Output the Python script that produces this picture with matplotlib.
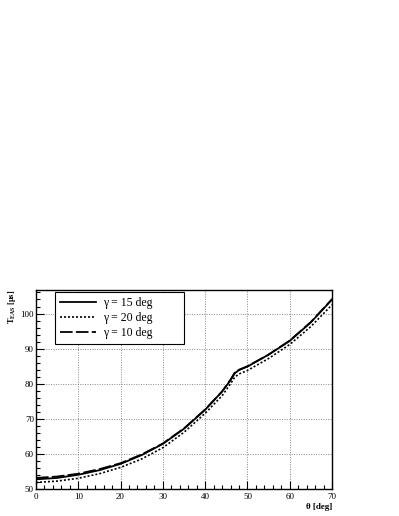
import numpy as np
import matplotlib
matplotlib.use("Agg")
import matplotlib.pyplot as plt
from matplotlib.ticker import MultipleLocator

plt.rcParams['font.family'] = ['Liberation Serif', 'DejaVu Serif']
plt.rcParams['mathtext.fontset'] = 'custom'
plt.rcParams['mathtext.rm'] = 'Liberation Serif'
plt.rcParams['mathtext.bf'] = 'Liberation Serif:bold'

# zenith angle [deg]
theta = [0, 5, 10, 15, 20, 25, 30, 35, 40, 44, 46, 47, 48, 50, 55, 60, 65, 70]

# T_EAS [us] for each gamma
t_g15 = [52.8, 53.2, 54.1, 55.4, 57.2, 59.7, 62.9, 67.2, 72.6, 77.8, 81.0, 83.0, 83.9, 84.9, 88.3, 92.2, 97.5, 104.0]
t_g20 = [51.9, 52.3, 53.1, 54.4, 56.2, 58.6, 61.8, 66.2, 71.6, 76.6, 80.0, 81.9, 82.8, 83.8, 87.2, 91.2, 96.3, 102.5]
t_g10 = [53.2, 53.6, 54.4, 55.7, 57.4, 59.9, 63.0, 67.3, 72.7, 77.8, 81.2, 83.2, 84.0, 85.0, 88.3, 92.3, 97.6, 104.1]

labels = ['γ = 15 deg', 'γ = 20 deg', 'γ = 10 deg']

fig = plt.figure(figsize=(3.99, 5.16), dpi=100)
ax = fig.add_axes([0.0902, 0.052, 0.742, 0.386])

ax.plot(theta, t_g15, color='black', lw=1.3, ls='-', label=labels[0])
ax.plot(theta, t_g20, color='black', lw=1.2, ls=(0, (1.2, 1.2)), label=labels[1])
ax.plot(theta, t_g10, color='black', lw=1.3, ls=(0, (7, 1.8)), label=labels[2])

ax.set_xlim(0, 70)
ax.set_ylim(50, 106.7)

ax.xaxis.set_major_locator(MultipleLocator(10))
ax.xaxis.set_minor_locator(MultipleLocator(2))
ax.yaxis.set_major_locator(MultipleLocator(10))
ax.yaxis.set_minor_locator(MultipleLocator(2))
ax.tick_params(which='both', direction='in', labelsize=6.5, width=0.8)
ax.tick_params(axis='y', pad=1.5)
ax.tick_params(axis='x', pad=3)
ax.tick_params(which='major', length=6)
ax.tick_params(which='minor', length=3)

ax.grid(True, which='major', ls=(0, (1, 1.5)), color='#888888', lw=0.7)
for s in ax.spines.values():
    s.set_linewidth(1.0)

ax.set_xlabel('θ [deg]', loc='right', fontsize=6.5, fontweight='bold', labelpad=1.5)
ax.set_ylabel(r'$\mathbf{T}_{\mathbf{EAS}}$ [μs]', loc='top', fontsize=6,
              fontweight='bold', labelpad=1.5)

leg = ax.legend(loc='upper left', bbox_to_anchor=(0.0642, 0.754, 0.436, 0.2375),
                mode='expand', borderaxespad=0, fontsize=8.5, fancybox=False,
                framealpha=1, edgecolor='black', handlelength=3.0,
                handletextpad=0.65, labelspacing=0.25, borderpad=0.45)
leg.get_frame().set_linewidth(0.8)

fig.savefig('out.png', dpi=100)
